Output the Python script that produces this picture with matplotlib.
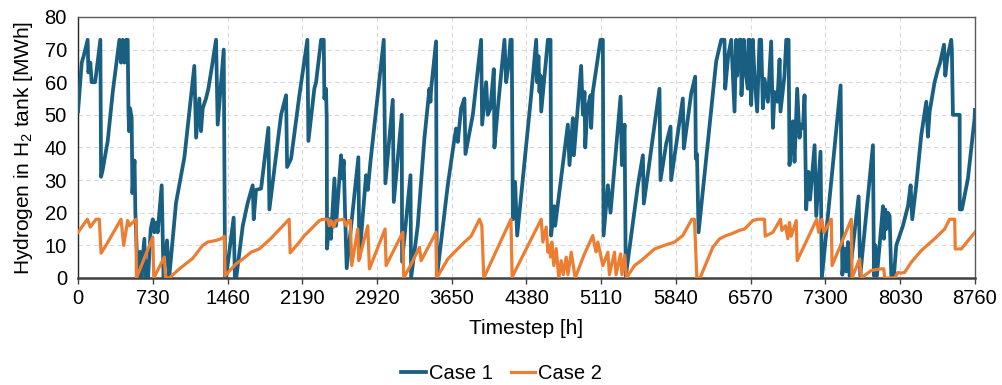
import matplotlib
matplotlib.use("Agg")
import matplotlib.pyplot as plt
import numpy as np

plt.rcParams["font.family"] = ["Liberation Sans", "DejaVu Sans"]
plt.rcParams["mathtext.fontset"] = "custom"
plt.rcParams["mathtext.rm"] = "Liberation Sans"
plt.rcParams["mathtext.it"] = "Liberation Sans:italic"

# Hydrogen stored in the tank over the year (hour, MWh)
case1_hours = [
    0, 36, 55, 94, 101, 120, 133, 166, 179, 218, 225, 240, 290, 339, 404, 420, 436, 453, 469, 485,
    492, 498, 508, 524, 531, 544, 552, 560, 583, 606, 615, 648, 658, 672, 684, 710, 730, 746, 762, 778,
    817, 835, 869, 890, 957, 1039, 1087, 1136, 1153, 1185, 1201, 1218, 1250, 1273, 1309, 1348, 1364, 1423, 1436, 1445,
    1520, 1532, 1545, 1609, 1657, 1706, 1716, 1739, 1788, 1859, 1869, 1918, 1983, 2032, 2042, 2081, 2162, 2240, 2250, 2308,
    2325, 2374, 2400, 2406, 2422, 2429, 2432, 2455, 2470, 2504, 2520, 2569, 2579, 2595, 2608, 2624, 2738, 2748, 2813, 2830,
    2856, 2986, 3002, 3074, 3084, 3162, 3165, 3247, 3253, 3318, 3383, 3432, 3442, 3449, 3497, 3504, 3611, 3677, 3693, 3709,
    3742, 3774, 3784, 3856, 3937, 3947, 3986, 4002, 4028, 4061, 4067, 4100, 4165, 4181, 4204, 4224, 4236, 4247, 4269, 4289,
    4361, 4426, 4475, 4484, 4497, 4507, 4517, 4524, 4556, 4589, 4615, 4621, 4650, 4660, 4784, 4800, 4833, 4843, 4914, 4931,
    4947, 4954, 4975, 5006, 5012, 5028, 5103, 5126, 5133, 5175, 5201, 5299, 5312, 5338, 5350, 5468, 5517, 5526, 5679, 5689,
    5745, 5787, 5793, 5907, 5917, 5989, 6028, 6034, 6045, 6061, 6233, 6282, 6314, 6321, 6350, 6380, 6412, 6428, 6438, 6461,
    6475, 6480, 6503, 6520, 6542, 6549, 6560, 6575, 6591, 6607, 6633, 6656, 6672, 6689, 6705, 6738, 6770, 6787, 6803, 6830,
    6852, 6861, 6900, 6917, 6940, 6949, 6982, 6998, 7024, 7047, 7062, 7080, 7096, 7112, 7135, 7150, 7194, 7210, 7252, 7265,
    7448, 7465, 7487, 7503, 7520, 7536, 7624, 7640, 7764, 7774, 7787, 7803, 7845, 7862, 7871, 7884, 7894, 7910, 7927, 7943,
    7969, 7992, 8057, 8106, 8132, 8148, 8187, 8236, 8285, 8301, 8318, 8366, 8399, 8420, 8458, 8471, 8490, 8529, 8535, 8545,
    8611, 8612, 8633, 8692, 8757, 8760,
]
case1_mwh = [
    51, 66, 68, 73, 63, 66, 60, 60, 63, 73, 31, 33, 42, 57, 73, 66, 73, 66, 73, 73,
    52, 45, 52, 49, 26, 33, 36, 20, 0, 8, 0, 12, 0, 5, 0, 15, 18, 14, 17, 14,
    28.4, 0, 11.5, 0, 23, 37, 51, 65, 43, 55, 45, 52, 55, 58, 65, 73, 47, 70, 0, 0,
    18.5, 0, 0, 16, 23, 28.4, 18, 27, 27.4, 46, 21, 33.5, 50, 56, 34, 36.6, 56, 73, 42, 58,
    60, 73, 73, 55, 58, 49, 9, 18, 12, 30.5, 16, 37.6, 30.5, 36, 20, 3, 37, 6, 31.5, 27,
    35.6, 73, 29, 54.6, 23.3, 50, 5, 31.5, 0, 16, 42.8, 58, 54, 58, 72.5, 0, 28.4, 42.8, 45.8, 41.7,
    52, 55, 38, 50, 73, 47, 60, 50, 52, 64, 40, 52, 73, 60, 65, 73, 73, 18, 29.4, 13,
    35.6, 56, 73, 60, 68, 57, 62, 51, 62, 73, 73, 13, 22, 16, 47, 34.6, 49, 37.6, 65, 50,
    57, 40, 52, 56, 46, 57, 73, 73, 13, 28.4, 20, 55.6, 34.6, 47, 0.5, 28.4, 37.6, 22.8, 58, 30,
    41.2, 46.4, 30, 55, 39.7, 56.6, 61.7, 36.6, 38, 14, 66.4, 73, 73, 58, 68, 73, 51, 73, 62, 73,
    73, 56, 73, 63, 58, 73, 73, 53, 73, 62, 51, 73, 73, 52, 61, 54, 72.5, 46, 57, 54,
    67, 51, 62, 73, 73, 34.6, 48, 35.6, 58, 43, 47, 46, 56, 21, 32.5, 24, 40.7, 19, 38.7, 0,
    59, 1, 9, 2, 11, 0.7, 25, 0.7, 40.7, 0.7, 10, 0.7, 16, 22, 12, 21, 15, 20, 19, 0.7,
    0.7, 10, 16, 22, 28.4, 18, 28.4, 43.8, 54, 43.3, 51, 60, 64, 66, 71.5, 62, 67.4, 73, 70, 50,
    50, 21, 21, 30.5, 49, 51.5,
]

case2_hours = [
    0, 91, 120, 176, 208, 225, 273, 413, 420, 446, 485, 500, 567, 570, 730, 740, 843, 855, 892, 990,
    1120, 1218, 1267, 1348, 1397, 1429, 1436, 1543, 1609, 1690, 1771, 1880, 2062, 2072, 2162, 2211, 2276, 2357, 2390, 2440,
    2455, 2471, 2497, 2520, 2595, 2618, 2641, 2660, 2673, 2732, 2742, 2830, 2846, 2999, 3009, 3172, 3181, 3250, 3335, 3351,
    3497, 3504, 3611, 3709, 3774, 3839, 3921, 3944, 3963, 4228, 4240, 4524, 4540, 4573, 4589, 4605, 4615, 4628, 4647, 4670,
    4696, 4719, 4740, 4768, 4785, 4817, 4856, 4940, 5028, 5045, 5060, 5077, 5126, 5175, 5190, 5240, 5255, 5299, 5312, 5340,
    5356, 5435, 5500, 5631, 5728, 5826, 5907, 5995, 6021, 6044, 6075, 6200, 6266, 6331, 6380, 6461, 6510, 6591, 6640, 6705,
    6712, 6787, 6861, 6874, 6910, 6933, 6949, 6966, 7015, 7024, 7215, 7233, 7265, 7285, 7357, 7365, 7553, 7560, 7634, 7650,
    7748, 7845, 7870, 7878, 7976, 8008, 8040, 8073, 8138, 8236, 8366, 8464, 8513, 8562, 8568, 8627, 8760,
]
case2_mwh = [
    14, 18, 15.6, 18, 18, 7.6, 10, 17.6, 18, 10, 17.6, 16, 18, 0, 12.5, 0, 6.4, 0, 0, 2.8,
    6, 10, 11, 11.5, 12, 12.8, 0.7, 4.3, 5.8, 7.9, 8.9, 12, 18, 7.7, 11, 13, 15, 17.6, 18, 18,
    16, 17.6, 15.6, 17.6, 18, 16, 17.6, 17.6, 3.8, 15, 5.3, 16, 2.8, 15, 3.8, 14, 0, 4, 9.4, 5.3,
    14, 0, 5.8, 8.9, 11, 12.8, 18, 16, 0, 18, 0.3, 18, 11, 15.6, 7.9, 10, 6.4, 11, 3.8, 9,
    0, 5.3, 1, 6.4, 1, 7.9, 0, 6.9, 13, 10, 8, 11, 3.8, 7.9, 1, 7.9, 1, 7.4, 1, 7,
    0, 3.8, 5.3, 8.9, 10, 11, 13, 18, 18, 0, 0, 9.4, 12, 13, 13.5, 14.6, 15, 17.6, 18, 18,
    12.8, 14, 18, 14.6, 16, 12, 17, 12.8, 17.6, 5.3, 18, 14, 18, 14, 18, 3.8, 18, 0, 5.8, 0,
    2.3, 2.8, 2.8, 0, 0, 1.7, 1.5, 1.7, 4.8, 8.4, 12, 15, 18, 18, 8.9, 8.9, 14,
]

x_ticks = np.arange(0, 8761, 730)
y_ticks = np.arange(0, 81, 10)

blue = "#185F82"
orange = "#ED7D31"
tick_fs = 14.5
label_fs = 15

fig = plt.figure(figsize=(10.03, 3.85), dpi=100)
ax = fig.add_axes([0.0778, 0.278, 0.8942, 0.678])

ax.plot(case1_hours, case1_mwh, color=blue, lw=2.7, label="Case 1", solid_joinstyle="round", zorder=3)
ax.plot(case2_hours, case2_mwh, color=orange, lw=2.3, label="Case 2", solid_joinstyle="round", zorder=4)

ax.set_xlim(0, 8760)
ax.set_ylim(0, 80)
ax.set_xticks(x_ticks)
ax.set_yticks(y_ticks)
ax.tick_params(axis="both", labelsize=tick_fs, colors="#000000")
ax.tick_params(axis="x", length=4, width=1, color="#404040", pad=4)
ax.tick_params(axis="y", length=0, pad=8)

ax.grid(True, color="#d9d9d9", linestyle=(0, (4, 3)), linewidth=0.8, zorder=0)
ax.set_axisbelow(True)

for side in ("top", "right"):
    ax.spines[side].set_color("#595959")
    ax.spines[side].set_linewidth(1.0)
ax.spines["left"].set_color("#262626")
ax.spines["left"].set_linewidth(1.0)
ax.spines["bottom"].set_color("#404040")
ax.spines["bottom"].set_linewidth(1.8)

ax.set_xlabel("Timestep [h]", fontsize=label_fs, labelpad=8)
ax.set_ylabel("Hydrogen in H$_2$ tank [MWh]", fontsize=label_fs, labelpad=7)

fig.legend(loc="center", bbox_to_anchor=(0.5, 0.03), ncol=2, frameon=False,
           fontsize=tick_fs, handlelength=1.2, handletextpad=0.15, columnspacing=0.9)

fig.savefig("out.png", dpi=100)
